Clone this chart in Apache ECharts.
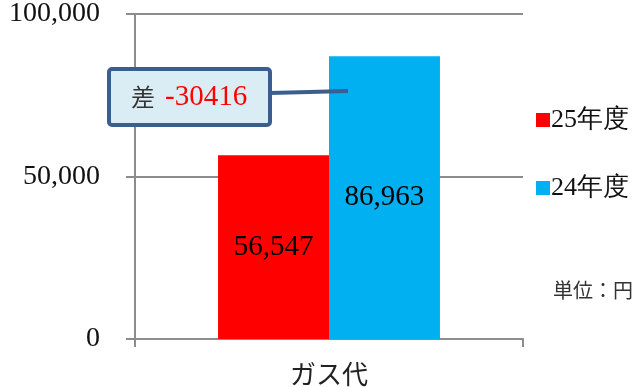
<!DOCTYPE html>
<html>
<head>
<meta charset="utf-8">
<style>
  html, body { margin: 0; padding: 0; background: #fff; }
  #chart { width: 637px; height: 387px; }
</style>
<script src="https://cdn.jsdelivr.net/npm/echarts@6/dist/echarts.min.js"></script>
</head>
<body>
<div id="chart"></div>
<script>
// Gas cost comparison, FY25 vs FY24 (yen)
const categories = ['ガス代'];
const seriesNames = ['25年度', '24年度'];
const fy25Values = [56547];
const fy24Values = [86963];
const yTicks = [0, 50000, 100000];
const unitLabel = '単位：円';
const diffLabel = '差';

const SERIF = '"Liberation Serif", "DejaVu Serif", serif';
const JP = '"Noto Sans CJK JP", sans-serif';
const AXIS_GRAY = '#8c8c8c';

const diff = fy25Values[0] - fy24Values[0];
const fmt = v => v.toLocaleString('en-US');

const chart = echarts.init(document.getElementById('chart'), null, { renderer: 'canvas' });

chart.setOption({
  animation: false,
  backgroundColor: '#ffffff',
  grid: { left: 135, right: 114, top: 13, bottom: 48, containLabel: false },
  legend: {
    orient: 'vertical',
    left: 531,
    top: 102,
    itemWidth: 14,
    itemHeight: 14,
    itemGap: 42,
    icon: 'rect',
    data: seriesNames,
    textStyle: { fontFamily: SERIF, fontSize: 26, color: '#111', padding: [0, 0, 0, -4] },
    selectedMode: false
  },
  xAxis: {
    type: 'category',
    data: categories,
    axisLine: { lineStyle: { color: AXIS_GRAY, width: 2 } },
    axisTick: { show: true, length: 8, lineStyle: { color: AXIS_GRAY, width: 2 } },
    axisLabel: { fontFamily: JP, fontSize: 26, color: '#222', margin: 22 }
  },
  yAxis: {
    type: 'value',
    min: yTicks[0],
    max: yTicks[yTicks.length - 1],
    interval: yTicks[1] - yTicks[0],
    axisLine: { show: true, lineStyle: { color: AXIS_GRAY, width: 2 } },
    axisTick: { show: true, length: 9, lineStyle: { color: AXIS_GRAY, width: 2 } },
    splitLine: { show: true, lineStyle: { color: AXIS_GRAY, width: 2 } },
    axisLabel: {
      fontFamily: SERIF, fontSize: 28, color: '#111', margin: 35,
      formatter: v => fmt(v)
    }
  },
  series: [
    {
      name: seriesNames[0],
      type: 'bar',
      data: fy25Values,
      barGap: '0%',
      barCategoryGap: '42.8%',
      itemStyle: { color: '#ff0000' },
      label: {
        show: true, position: 'inside', color: '#000',
        fontFamily: SERIF, fontSize: 29, formatter: p => fmt(p.value)
      }
    },
    {
      name: seriesNames[1],
      type: 'bar',
      data: fy24Values,
      itemStyle: { color: '#00b0f0' },
      label: {
        show: true, position: 'inside', color: '#000',
        fontFamily: SERIF, fontSize: 29, formatter: p => fmt(p.value)
      }
    }
  ],
  graphic: [
    {
      type: 'text',
      left: 553,
      top: 280,
      style: { text: unitLabel, fontFamily: JP, fontSize: 20, fill: '#333' }
    },
    {
      type: 'line',
      shape: { x1: 270, y1: 93, x2: 348, y2: 91 },
      style: { stroke: '#3b5e8c', lineWidth: 4 },
      z: 10
    },
    {
      type: 'rect',
      shape: { x: 109, y: 69, width: 161, height: 56, r: 3 },
      style: { fill: '#dbedf4', stroke: '#3b5e8c', lineWidth: 4 },
      z: 11
    },
    {
      type: 'text',
      x: 131,
      y: 97,
      style: {
        text: '{a|' + diffLabel + '}{b|' + String(diff) + '}',
        verticalAlign: 'middle',
        rich: {
          a: { fontFamily: JP, fontSize: 24, fill: '#333', padding: [0, 10, 0, 0] },
          b: { fontFamily: SERIF, fontSize: 29, fill: '#ff0000' }
        }
      },
      z: 12
    }
  ]
});
</script>
</body>
</html>
